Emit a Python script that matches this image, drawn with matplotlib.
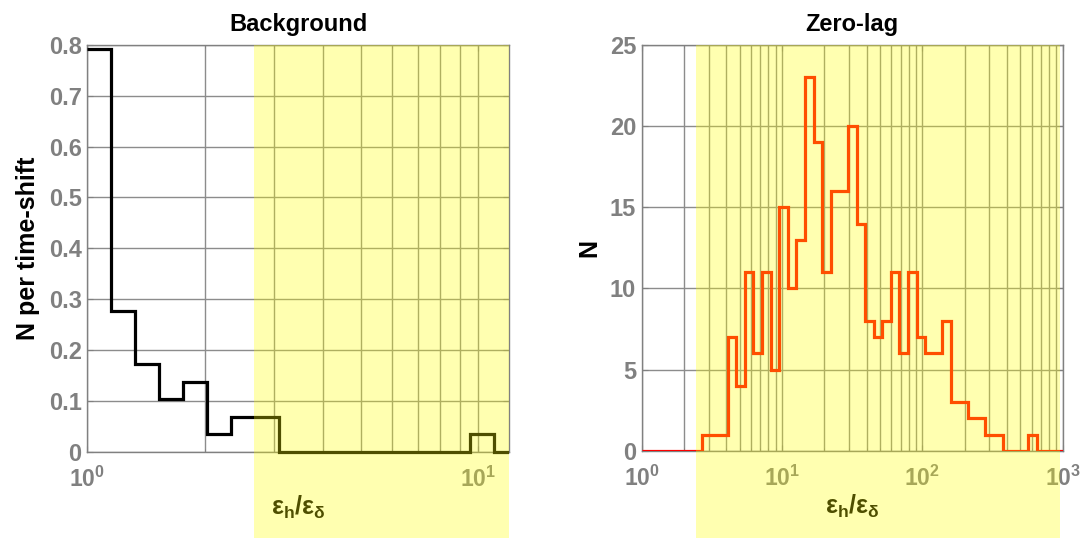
import numpy as np
import matplotlib
matplotlib.use("Agg")
import matplotlib.pyplot as plt
from matplotlib.patches import Rectangle
from matplotlib.transforms import blended_transform_factory, Bbox, TransformedBbox

plt.rcParams["font.family"] = ["Liberation Sans", "DejaVu Sans"]
plt.rcParams["font.weight"] = "bold"
plt.rcParams["mathtext.fontset"] = "custom"
plt.rcParams["mathtext.rm"] = "Liberation Sans"
plt.rcParams["mathtext.bf"] = "Liberation Sans:bold"
plt.rcParams["mathtext.it"] = "Liberation Sans:italic"

# Logarithmic bins shared by both histograms: 49 bins spanning 1 .. 1000
bin_edges = np.logspace(0, 3, 50)

# Background: events per time shift, first 18 bins (the rest lie beyond the axis)
background_counts = [0.793, 0.276, 0.172, 0.103, 0.138, 0.034, 0.069, 0.069,
                     0, 0, 0, 0, 0, 0, 0, 0, 0.034, 0]

# Zero-lag: event counts in all 49 bins
zerolag_counts = [0, 0, 0, 0, 0, 0, 0, 1, 1, 1,
                  7, 4, 11, 6, 11, 5, 15, 10, 13, 23,
                  19, 11, 16, 16, 20, 14, 8, 7, 8, 11,
                  6, 11, 7, 6, 6, 8, 3, 3, 2, 2,
                  1, 1, 0, 0, 0, 1, 0, 0, 0]

# Highlighted ranges of eps_h / eps_delta
background_band = (2.67, 12.0)
zerolag_band = (2.43, 950.0)

background_xlim = (1, 12)
zerolag_xlim = (1, 1000)
background_yticks = [0, 0.1, 0.2, 0.3, 0.4, 0.5, 0.6, 0.7, 0.8]
background_yticklabels = ["0", "0.1", "0.2", "0.3", "0.4", "0.5", "0.6", "0.7", "0.8"]
zerolag_yticks = [0, 5, 10, 15, 20, 25]

GRAY = (0.5, 0.5, 0.5)
GRID = (0.55, 0.55, 0.55)
TICK_FS = 17
XTICK_FS = 16.5
TITLE_FS = 17
YLABEL_FS = 18
XLABEL_FS = 18
XLABEL = r"$\mathrm{\varepsilon}_{\mathbf{h}}/\mathrm{\varepsilon}_{\mathrm{\delta}}$"

fig = plt.figure(figsize=(10.91, 5.38), dpi=100)
ax_bg = fig.add_axes([0.0800, 0.1604, 0.3868, 0.7560])
ax_zl = fig.add_axes([0.5882, 0.1620, 0.3859, 0.7544])


def style_axes(ax, xlim, yticks, yticklabels, ylim):
    ax.set_xscale("log")
    ax.set_xlim(*xlim)
    ax.set_ylim(*ylim)
    ax.set_yticks(yticks)
    ax.set_yticklabels(yticklabels)
    majors = [t for t in (1, 10, 100, 1000) if xlim[0] <= t <= xlim[1]]
    ax.set_xticks(majors)
    ax.set_xticklabels([r"$\mathbf{10^{%d}}$" % int(np.log10(t)) for t in majors])
    for s in ax.spines.values():
        s.set_color(GRAY)
        s.set_linewidth(1.0)
    ax.tick_params(which="both", direction="in", top=True, right=True,
                   colors=GRAY, labelsize=TICK_FS)
    ax.tick_params(which="major", length=4, width=0.8, pad=4)
    ax.tick_params(which="minor", length=2, width=0.6)
    ax.tick_params(axis="x", which="major", pad=11, labelsize=XTICK_FS)
    for lab in ax.get_xticklabels() + ax.get_yticklabels():
        lab.set_fontweight("bold")
    ax.grid(True, which="major", color=GRID, linewidth=1.0)
    ax.grid(True, which="minor", axis="x", color=GRID, linewidth=1.0)
    ax.set_axisbelow(True)
    ax.set_xlabel(XLABEL, fontsize=XLABEL_FS, color="black", labelpad=1)


def shade(ax, band):
    trans = blended_transform_factory(ax.transData, fig.transFigure)
    top = ax.get_position().y1
    rect = Rectangle((band[0], 0), band[1] - band[0], top, transform=trans,
                     facecolor=(1.0, 1.0, 0.0), alpha=0.31, edgecolor="none",
                     zorder=10)
    fig.add_artist(rect)


# Background panel
style_axes(ax_bg, background_xlim, background_yticks, background_yticklabels, (0, 0.8))
n_bg = len(background_counts)
step_bg = ax_bg.stairs(background_counts, bin_edges[:n_bg + 1], baseline=None,
                       color="black", linewidth=2.3, zorder=3)
step_bg.set_clip_box(TransformedBbox(Bbox([[0, -0.05], [1, 1.05]]), ax_bg.transAxes))
ax_bg.set_title("Background", fontsize=TITLE_FS, fontweight="bold", pad=10)
ax_bg.set_ylabel("N per time-shift", fontsize=YLABEL_FS, fontweight="bold", labelpad=6)

# Zero-lag panel
style_axes(ax_zl, zerolag_xlim, zerolag_yticks, [str(t) for t in zerolag_yticks], (0, 25))
ax_zl.stairs(zerolag_counts, bin_edges, baseline=None, color=(1.0, 0.0, 0.0),
             linewidth=2.3, zorder=3)
ax_zl.set_title("Zero-lag", fontsize=TITLE_FS, fontweight="bold", pad=10)
ax_zl.set_ylabel("N", fontsize=YLABEL_FS, fontweight="bold", labelpad=6)

shade(ax_bg, background_band)
shade(ax_zl, zerolag_band)

fig.savefig("out.png", dpi=100)
